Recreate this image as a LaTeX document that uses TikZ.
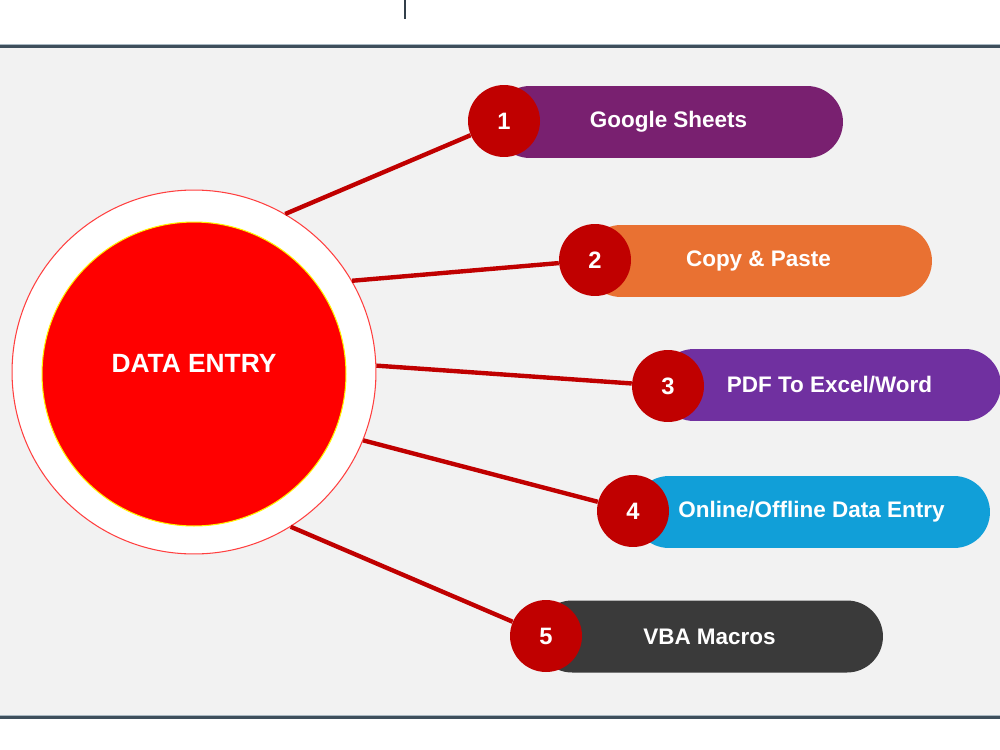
\documentclass[tikz,border=0pt]{standalone}
\usepackage{fontspec}
\setmainfont{Liberation Sans}
\usetikzlibrary{shapes.misc, positioning}
\definecolor{bandgray}{HTML}{F2F2F2}
\definecolor{rulegray}{HTML}{3E4F5C}
\definecolor{rulelight}{HTML}{A9B8C2}
\definecolor{darkred}{HTML}{C00000}
\definecolor{pillplum}{HTML}{792070}
\definecolor{pillorange}{HTML}{E97132}
\definecolor{pillviolet}{HTML}{7030A0}
\definecolor{pillblue}{HTML}{119FD8}
\definecolor{pillcharcoal}{HTML}{3A3A3A}
\tikzset{
  pill/.style={rounded rectangle, minimum height=1.44cm, inner sep=0pt,
    text=white, font=\bfseries\fontsize{12.8}{14}\selectfont},
  numdot/.style={circle, fill=darkred, minimum size=1.44cm, inner sep=0pt,
    text=white, font=\bfseries\fontsize{13.5}{15}\selectfont},
  spoke/.style={draw=darkred, line width=2.5pt},
}
\begin{document}
\begin{tikzpicture}[x=0.02cm, y=-0.02cm]
            \useasboundingbox (0, 0) rectangle (1000, 750);
            \clip (0, 0) rectangle (1000, 750);
            \fill[white] (0, 0) rectangle (1000, 750);
            \fill[bandgray] (0, 47) rectangle (1000, 716);
            \draw[rulelight, line width=0.8pt] (0, 45) -- (1000, 45);
            \draw[rulegray, line width=1.2pt] (0, 46.5) -- (1000, 46.5);
            \draw[rulelight, line width=0.8pt] (0, 716) -- (1000, 716);
            \draw[rulegray, line width=1.2pt] (0, 717.5) -- (1000, 717.5);
            \draw[rulegray!80!black, line width=0.8pt] (405, 0) -- (405, 19);
            % hub
            \node[circle, draw=red!75!white, fill=white, line width=0.6pt, minimum size=7.28cm] (hub) at (194, 372) {};
            \node[circle, draw=yellow, fill=red, line width=0.6pt, minimum size=6.08cm] (core) at (194, 374) {};
            \node[text=white, font=\bfseries\fontsize{15}{17}\selectfont] (title) at (194, 363) {DATA ENTRY};
            % pills
            \node[pill, fill=pillplum, minimum width=6.98cm] (p1) at (668.5, 122) {Google Sheets};
            \node[pill, fill=pillorange, minimum width=6.94cm] (p2) at (758.5, 261) {Copy \& Paste};
            \node[pill, fill=pillviolet, minimum width=6.86cm] (p3) at (829.5, 385) {PDF To Excel/Word};
            \node[pill, fill=pillblue, minimum width=7.14cm] (p4) at (811.5, 512) {Online/Offline Data Entry};
            \node[pill, fill=pillcharcoal, minimum width=6.94cm] (p5) at (709.5, 636.5) {VBA Macros};
            % numbers
            \node[numdot] (n1) at (504, 121) {1};
            \node[numdot] (n2) at (595, 260) {2};
            \node[numdot] (n3) at (668, 386) {3};
            \node[numdot] (n4) at (633, 511) {4};
            \node[numdot] (n5) at (546, 636) {5};
            % spokes
            \draw[spoke] (hub.60) -- (n1);
            \draw[spoke] (hub.30) -- (n2);
            \draw[spoke] (hub.2.5) -- (n3);
            \draw[spoke] (hub.-22) -- (n4);
            \draw[spoke] (hub.-58) -- (n5);
        \end{tikzpicture}
\end{document}
